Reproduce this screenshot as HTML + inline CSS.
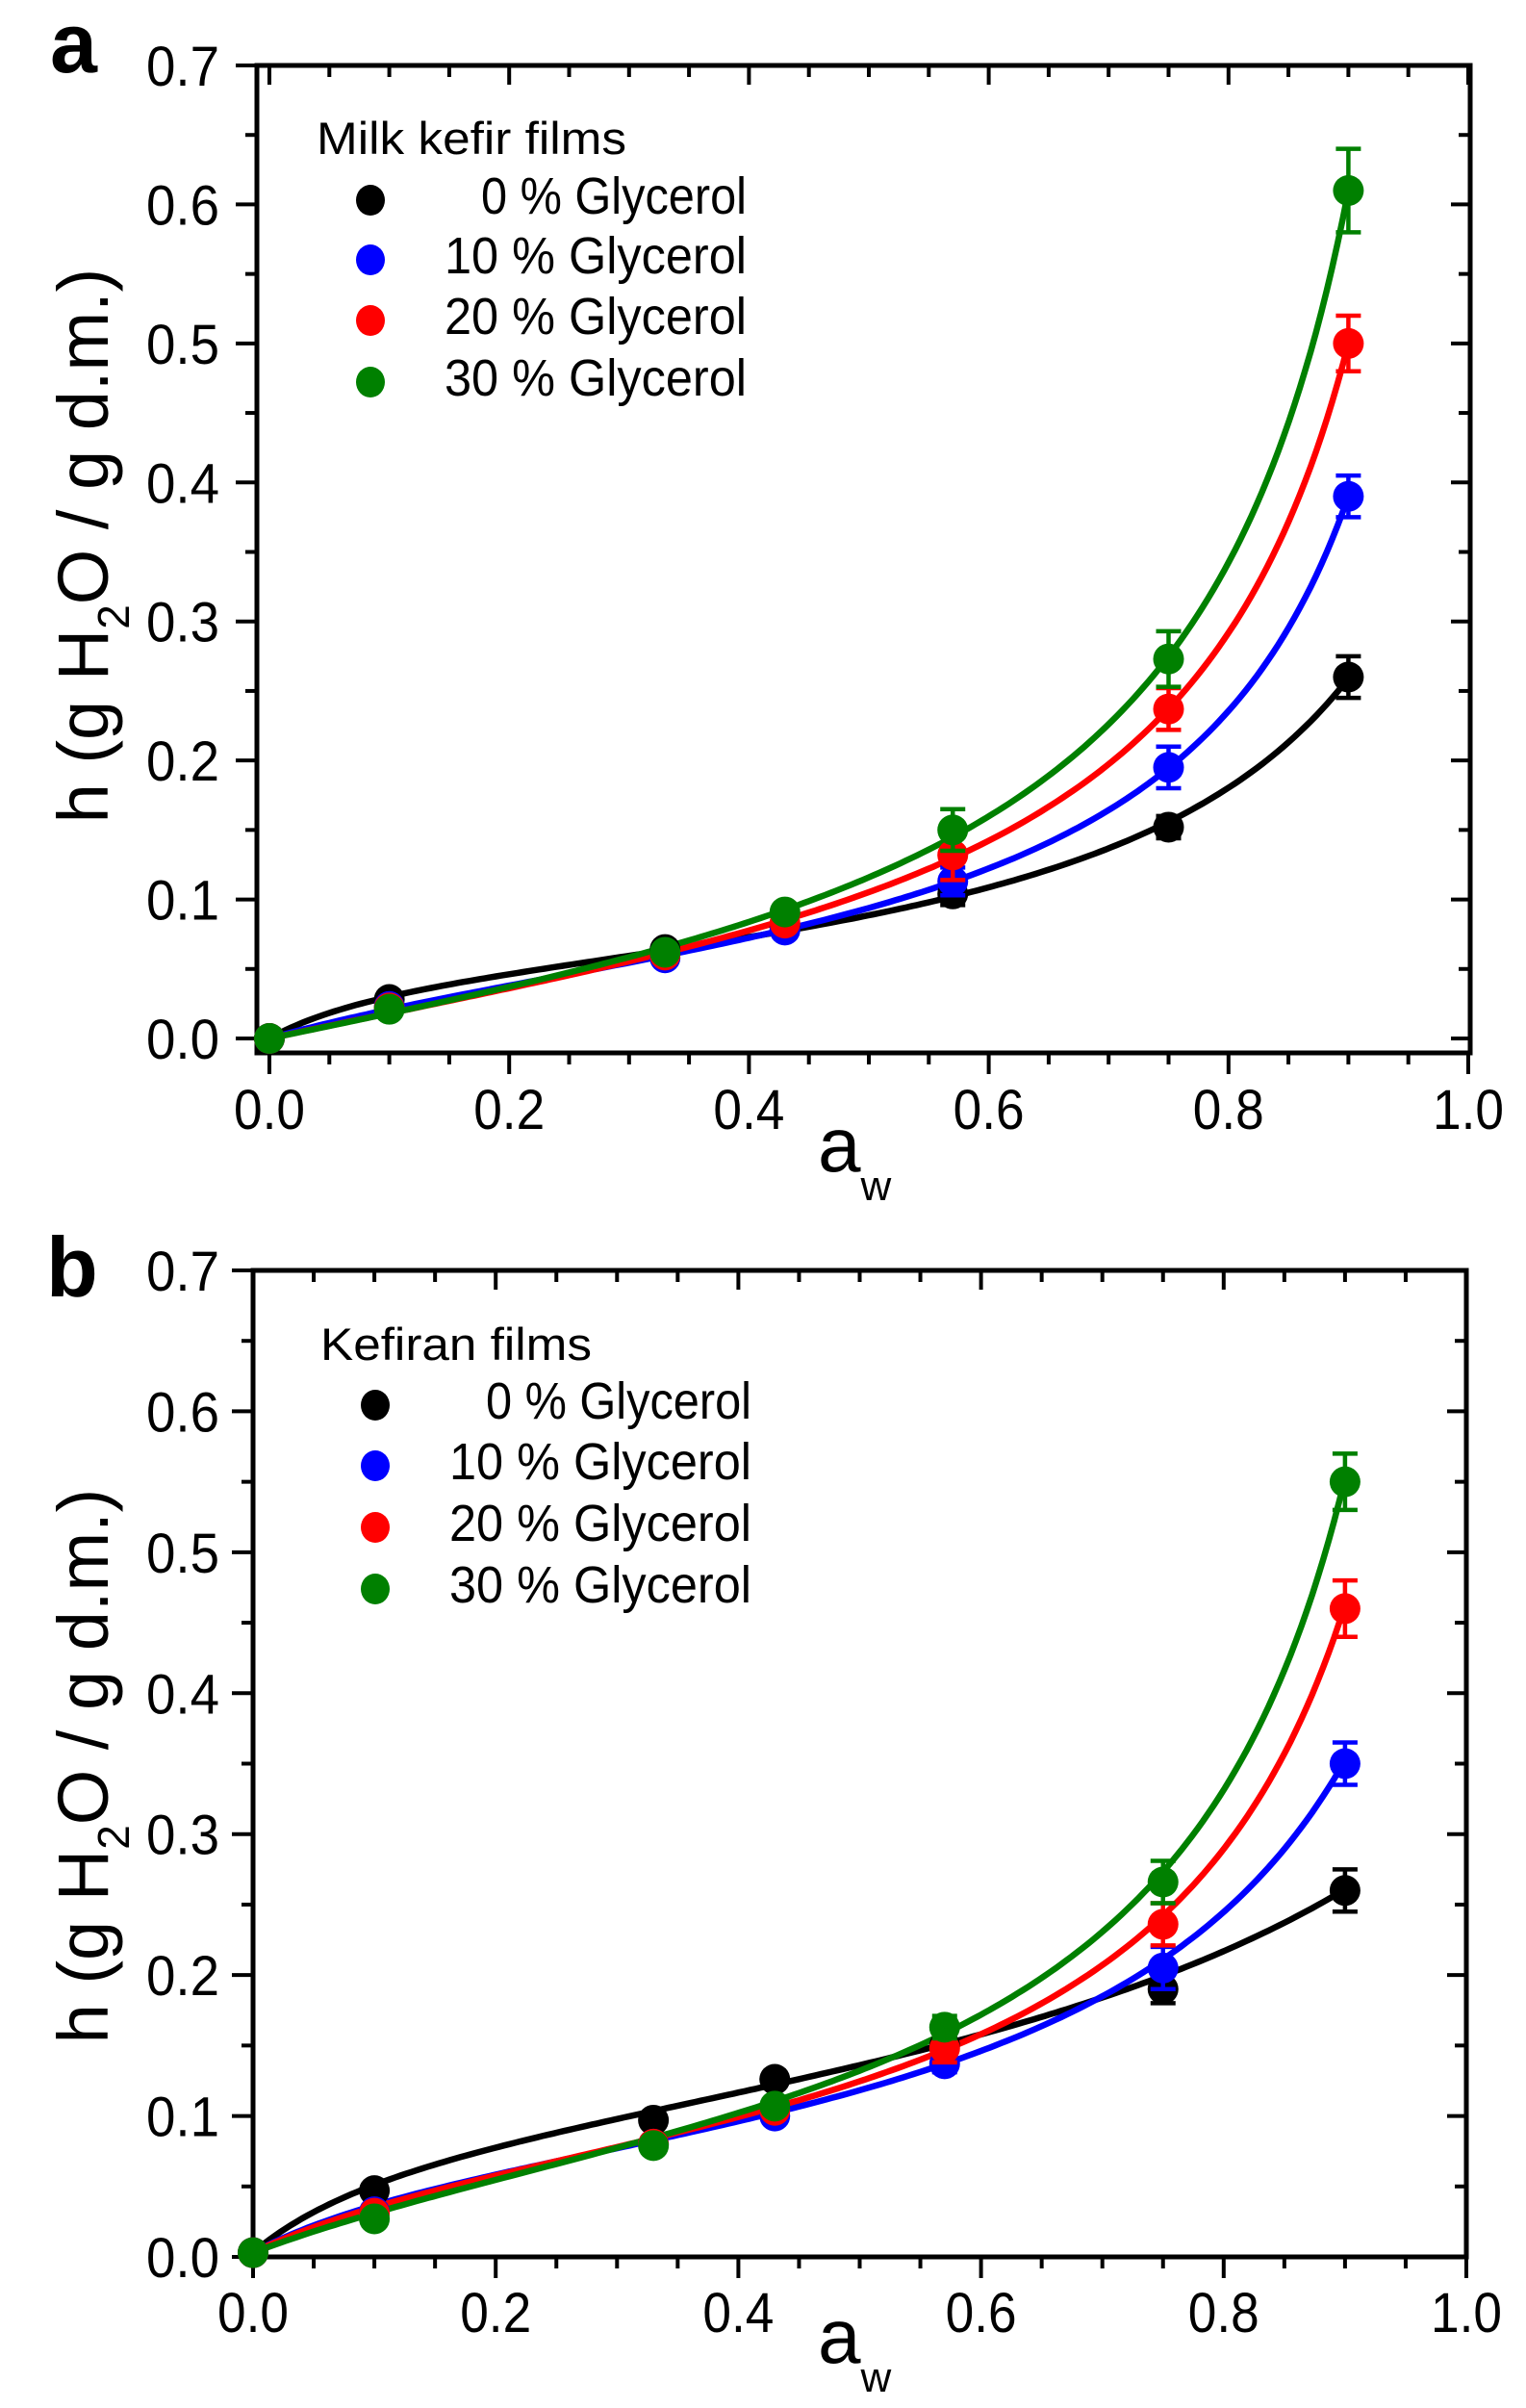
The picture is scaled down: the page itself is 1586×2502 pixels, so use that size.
<!DOCTYPE html>
<html><head><meta charset="utf-8">
<style>
html,body{margin:0;padding:0;background:#fff;}
svg{display:block;font-family:"Liberation Sans",sans-serif;}
</style></head>
<body>
<svg id="chart" width="1586" height="2502" viewBox="0 0 1586 2502" xmlns="http://www.w3.org/2000/svg"></svg>
<script>
// ---- data ----
const aw = [0, 0.1, 0.33, 0.43, 0.57, 0.75, 0.9];
const seriesLabels = ["0 % Glycerol", "10 % Glycerol", "20 % Glycerol", "30 % Glycerol"];
const seriesColors = ["#000000", "#0000ff", "#ff0000", "#008000"];
const xTickLabels = ["0.0", "0.2", "0.4", "0.6", "0.8", "1.0"];
const yTickLabels = ["0.0", "0.1", "0.2", "0.3", "0.4", "0.5", "0.6", "0.7"];
// Panel a: Milk kefir films
const milk0 = [0, 0.028, 0.064, 0.080, 0.104, 0.152, 0.260];
const milk10 = [0, 0.023, 0.058, 0.078, 0.113, 0.195, 0.390];
const milk20 = [0, 0.022, 0.060, 0.083, 0.132, 0.237, 0.500];
const milk30 = [0, 0.021, 0.062, 0.091, 0.150, 0.273, 0.610];
const milkErr0 = [0, 0.003, 0.003, 0.003, 0.008, 0.008, 0.015];
const milkErr10 = [0, 0.003, 0.003, 0.003, 0.010, 0.015, 0.015];
const milkErr20 = [0, 0.003, 0.003, 0.003, 0.018, 0.015, 0.020];
const milkErr30 = [0, 0.003, 0.003, 0.003, 0.015, 0.020, 0.030];
// Panel b: Kefiran films
const kef0 = [0.003, 0.047, 0.097, 0.126, 0.150, 0.190, 0.260];
const kef10 = [0.003, 0.032, 0.080, 0.100, 0.137, 0.205, 0.350];
const kef20 = [0.003, 0.031, 0.080, 0.104, 0.148, 0.236, 0.460];
const kef30 = [0.003, 0.027, 0.079, 0.107, 0.163, 0.266, 0.550];
const kefErr0 = [0, 0.003, 0.003, 0.003, 0.005, 0.010, 0.015];
const kefErr10 = [0, 0.003, 0.003, 0.003, 0.006, 0.015, 0.015];
const kefErr20 = [0, 0.003, 0.003, 0.003, 0.010, 0.015, 0.020];
const kefErr30 = [0, 0.003, 0.003, 0.003, 0.008, 0.015, 0.020];

const NS = "http://www.w3.org/2000/svg";
const svg = document.getElementById("chart");
function mk(tag, attrs, parent) {
  const e = document.createElementNS(NS, tag);
  for (const k in attrs) e.setAttribute(k, attrs[k]);
  (parent || svg).appendChild(e);
  return e;
}

// GAB model fit (Nelder-Mead) so curves are smooth like the reference
function gab(p, a) {
  const m = Math.exp(p[0]), C = Math.exp(p[1]), K = 1.1 / (1 + Math.exp(-p[2]));
  return m * C * K * a / ((1 - K * a) * (1 - K * a + C * K * a));
}
function fitGab(xs, ys) {
  const f = p => { let s = 0; for (let i = 0; i < xs.length; i++) { const r = gab(p, xs[i]) - ys[i]; s += r * r; } return s; };
  let simplex = [[Math.log(0.05), Math.log(5), 1.5]];
  for (let j = 0; j < 3; j++) { const q = simplex[0].slice(); q[j] += 0.7; simplex.push(q); }
  let vals = simplex.map(f);
  for (let it = 0; it < 3000; it++) {
    const idx = [0,1,2,3].sort((a,b)=>vals[a]-vals[b]);
    simplex = idx.map(i=>simplex[i]); vals = idx.map(i=>vals[i]);
    const c = [0,0,0]; for (let i=0;i<3;i++) for (let j=0;j<3;j++) c[j]+=simplex[i][j]/3;
    const w = simplex[3];
    const xr = c.map((v,j)=>v+(v-w[j])); const fr = f(xr);
    if (fr < vals[0]) { const xe = c.map((v,j)=>v+2*(v-w[j])); const fe = f(xe);
      if (fe < fr) { simplex[3]=xe; vals[3]=fe; } else { simplex[3]=xr; vals[3]=fr; } }
    else if (fr < vals[2]) { simplex[3]=xr; vals[3]=fr; }
    else { const xc = c.map((v,j)=>v+0.5*(w[j]-v)); const fc = f(xc);
      if (fc < vals[3]) { simplex[3]=xc; vals[3]=fc; }
      else { for (let i=1;i<4;i++){ simplex[i]=simplex[i].map((v,j)=>simplex[0][j]+0.5*(v-simplex[0][j])); vals[i]=f(simplex[i]); } } }
  }
  const best = simplex[vals.indexOf(Math.min(...vals))];
  return a => gab(best, a);
}

function panel(cfg) {
  const g = mk("g", {});
  
  
  const X = v => cfg.x0 + (cfg.x1 - cfg.x0) * v;
  const Y = v => cfg.y0 - (cfg.y0 - cfg.y7) * v / 0.7;
  const L = cfg.axL, R = cfg.axR, T = cfg.y7, B = cfg.axB;

  const tg = mk("g", {stroke: "#000", "stroke-width": 4}, g);
  
  
  for (let k = 0; k <= 20; k++) {
    const v = k * 0.05, x = X(v), major = k % 4 === 0;
    mk("line", {x1: x, y1: B, x2: x, y2: B + (major ? 22 : 12)}, tg);
    mk("line", {x1: x, y1: T, x2: x, y2: T + (major ? 20 : 12)}, tg);
  }
  for (let k = 0; k <= 14; k++) {
    const v = k * 0.05, y = Y(v), major = k % 2 === 0;
    mk("line", {x1: L, y1: y, x2: L - (major ? 22 : 12), y2: y}, tg);
    mk("line", {x1: R, y1: y, x2: R - (major ? 20 : 12), y2: y}, tg);
  }
  const frame = mk("rect", {x: L, y: T, width: R - L, height: B - T, fill: "none", stroke: "#000", "stroke-width": 5}, g);
  
  

  xTickLabels.forEach((lab, i) => {
    const t = mk("text", {x: X(i * 0.2), y: cfg.xLabY, "font-size": 58, "text-anchor": "middle", textLength: 74, lengthAdjust: "spacingAndGlyphs"}, g);
    t.textContent = lab;
    
    
  });
  yTickLabels.forEach((lab, i) => {
    const t = mk("text", {x: cfg.yLabX, y: Y(i * 0.1) + 21, "font-size": 58, "text-anchor": "end", textLength: 76, lengthAdjust: "spacingAndGlyphs"}, g);
    t.textContent = lab;
    
    
  });

  const xt = mk("text", {x: cfg.awX, y: cfg.awY, "font-size": 80}, g);
  
  
  xt.textContent = "a";
  const xs = mk("tspan", {dy: 30, "font-size": 44}, xt); xs.textContent = "w";

  const yt = mk("text", {x: 0, y: 0, "font-size": 74, "text-anchor": "middle", transform: `translate(${cfg.ytX},${cfg.ytY}) rotate(-90)`}, g);
  
  
  const s1 = mk("tspan", {}, yt); s1.textContent = "h (g H";
  const s2 = mk("tspan", {dy: 22, "font-size": 46}, yt); s2.textContent = "2";
  const s3 = mk("tspan", {dy: -22}, yt); s3.textContent = "O / g d.m.)";

  const pl = mk("text", {x: cfg.letX, y: cfg.letY, "font-size": 88, "font-weight": "bold"}, g);
  
  
  pl.textContent = cfg.letter;

  cfg.series.forEach((ys, si) => {
    const col = seriesColors[si];
    const sg = mk("g", {}, g);
    
    
    const f = fitGab(aw, ys);
    let d = "";
    for (let i = 0; i <= 200; i++) {
      const v = aw[aw.length - 1] * i / 200;
      d += (i ? "L" : "M") + X(v).toFixed(1) + "," + Y(f(v) + ys[0]).toFixed(1);
    }
    const p = mk("path", {d: d, fill: "none", stroke: col, "stroke-width": 6.5}, sg);
    
    
  });
  cfg.series.forEach((ys, si) => {
    const col = seriesColors[si], errs = cfg.errs[si];
    aw.forEach((v, i) => {
      const e = errs[i];
      if (e > 0.004) {
        const eb = mk("path", {d: `M${X(v)},${Y(ys[i]-e)}V${Y(ys[i]+e)}M${X(v)-13},${Y(ys[i]+e)}H${X(v)+13}M${X(v)-13},${Y(ys[i]-e)}H${X(v)+13}`, stroke: col, "stroke-width": 4.5, fill: "none"}, g);
        
        
      }
      const c = mk("circle", {cx: X(v), cy: Y(ys[i]), r: 16, fill: col}, g);
      
      
    });
  });

  const lg = mk("g", {}, g);
  
  
  const lt = mk("text", {x: cfg.legTitleX, y: cfg.legTitleY, "font-size": 47, textLength: cfg.legTitleLen, lengthAdjust: "spacingAndGlyphs"}, lg);
  
  
  lt.textContent = cfg.legTitle;
  seriesLabels.forEach((lab, i) => {
    const cy = cfg.legY[i];
    const e = mk("g", {}, lg);
    
    
    mk("ellipse", {cx: cfg.legDotX, cy: cy, rx: 15, ry: 16, fill: seriesColors[i]}, e);
    const t = mk("text", {x: cfg.legTextEnd, y: cy + 14, "font-size": 54, "text-anchor": "end", textLength: i ? 314 : 276, lengthAdjust: "spacingAndGlyphs"}, e);
    t.textContent = lab;
  });
}

panel({name: "panel-a-milk-kefir", letter: "a", letX: 52, letY: 75,
  x0: 280, x1: 1526, y0: 1079, y7: 68, axL: 267, axR: 1528, axB: 1094,
  xLabY: 1173, yLabX: 228, awX: 850, awY: 1217, ytX: 112, ytY: 567,
  series: [milk0, milk10, milk20, milk30], errs: [milkErr0, milkErr10, milkErr20, milkErr30],
  legTitle: "Milk kefir films", legTitleX: 329, legTitleY: 160, legTitleLen: 322,
  legDotX: 385, legY: [208, 270, 333, 397], legTextEnd: 776});

panel({name: "panel-b-kefiran", letter: "b", letX: 48, letY: 1347,
  x0: 263, x1: 1524, y0: 2345, y7: 1320, axL: 263, axR: 1524, axB: 2345,
  xLabY: 2423, yLabX: 228, awX: 850, awY: 2455, ytX: 112, ytY: 1835,
  series: [kef0, kef10, kef20, kef30], errs: [kefErr0, kefErr10, kefErr20, kefErr30],
  legTitle: "Kefiran films", legTitleX: 333, legTitleY: 1413, legTitleLen: 282,
  legDotX: 390, legY: [1460, 1523, 1587, 1651], legTextEnd: 781});
</script>
</body></html>
